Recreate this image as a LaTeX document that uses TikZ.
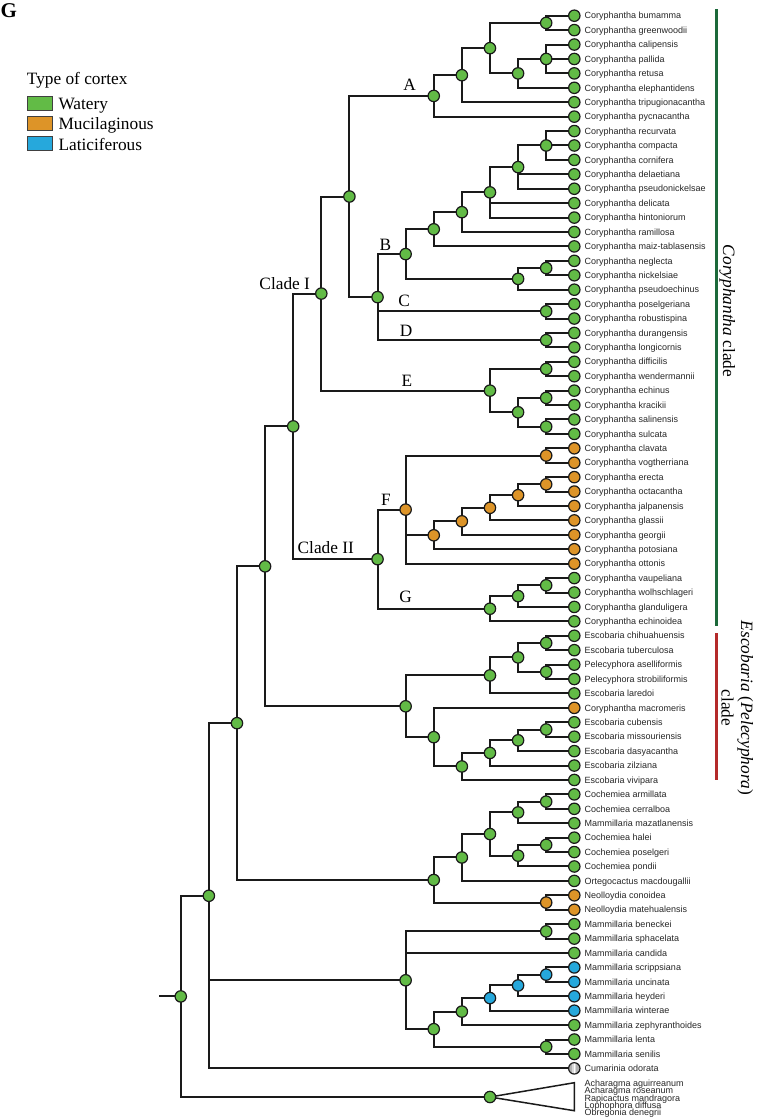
\documentclass[tikz,border=0pt]{standalone}
\usepackage{fontspec}
\setmainfont{Liberation Serif}
\newfontfamily\leaffont{Liberation Sans}
\usetikzlibrary{backgrounds}
\definecolor{gC}{RGB}{98,187,70}
\definecolor{oC}{RGB}{221,148,40}
\definecolor{bC}{RGB}{38,168,220}
\definecolor{barG}{RGB}{28,105,58}
\definecolor{barR}{RGB}{180,42,42}
\definecolor{ink}{RGB}{26,26,26}
\begin{document}
\begin{tikzpicture}[x=1pt,y=-1pt,
  nd/.style={circle, draw=ink, line width=1.2pt, minimum size=11.4pt, inner sep=0pt},
  edge/.style={line width=2pt, draw=ink},
  lab/.style={anchor=base west, inner sep=0pt, font=\leaffont\fontsize{9}{9}\selectfont, text=black!85},
  cl/.style={anchor=base, inner sep=0pt, font=\fontsize{17.3}{17.3}\selectfont},
  sw/.style={rectangle, draw=black!75, line width=0.8pt, minimum width=25pt, minimum height=13.6pt, inner sep=0pt},
  cumar/.style={nd, fill=gray!60, path picture={
     \fill[gray!30] ([xshift=-2pt]path picture bounding box.north) rectangle ([xshift=2pt]path picture bounding box.south);
     \fill[white] ([xshift=-0.6pt]path picture bounding box.north) rectangle ([xshift=0.6pt]path picture bounding box.south);}}
]
\useasboundingbox (0,0) rectangle (756,1119);

% panel letter and legend
\node[anchor=base west, inner sep=0pt, font=\bfseries\fontsize{21}{21}\selectfont] (panel) at (0.5,17.3) {G};
\node[anchor=base west, inner sep=0pt, font=\fontsize{17.3}{17.3}\selectfont] (legt) at (26.7,84) {Type of cortex};
\node[sw, fill=gC] (sw1) at (39.8,103.3) {};
\node[sw, fill=oC] (sw2) at (39.8,123.3) {};
\node[sw, fill=bC] (sw3) at (39.8,143.5) {};
\node[anchor=base west, inner sep=0pt, font=\fontsize{17.3}{17.3}\selectfont] (lw1) at (58.3,109.3) {Watery};
\node[anchor=base west, inner sep=0pt, font=\fontsize{17.3}{17.3}\selectfont] (lw2) at (58.3,129.8) {Mucilaginous};
\node[anchor=base west, inner sep=0pt, font=\fontsize{17.3}{17.3}\selectfont] (lw3) at (58.3,150.3) {Laticiferous};

% leaves
\foreach \i/\c/\t in {
1/gC/Coryphantha bumamma, 2/gC/Coryphantha greenwoodii, 3/gC/Coryphantha calipensis,
4/gC/Coryphantha pallida, 5/gC/Coryphantha retusa, 6/gC/Coryphantha elephantidens,
7/gC/Coryphantha tripugionacantha, 8/gC/Coryphantha pycnacantha, 9/gC/Coryphantha recurvata,
10/gC/Coryphantha compacta, 11/gC/Coryphantha cornifera, 12/gC/Coryphantha delaetiana,
13/gC/Coryphantha pseudonickelsae, 14/gC/Coryphantha delicata, 15/gC/Coryphantha hintoniorum,
16/gC/Coryphantha ramillosa, 17/gC/Coryphantha maiz-tablasensis, 18/gC/Coryphantha neglecta,
19/gC/Coryphantha nickelsiae, 20/gC/Coryphantha pseudoechinus, 21/gC/Coryphantha poselgeriana,
22/gC/Coryphantha robustispina, 23/gC/Coryphantha durangensis, 24/gC/Coryphantha longicornis,
25/gC/Coryphantha difficilis, 26/gC/Coryphantha wendermannii, 27/gC/Coryphantha echinus,
28/gC/Coryphantha kracikii, 29/gC/Coryphantha salinensis, 30/gC/Coryphantha sulcata,
31/oC/Coryphantha clavata, 32/oC/Coryphantha vogtherriana, 33/oC/Coryphantha erecta,
34/oC/Coryphantha octacantha, 35/oC/Coryphantha jalpanensis, 36/oC/Coryphantha glassii,
37/oC/Coryphantha georgii, 38/oC/Coryphantha potosiana, 39/oC/Coryphantha ottonis,
40/gC/Coryphantha vaupeliana, 41/gC/Coryphantha wolhschlageri, 42/gC/Coryphantha glanduligera,
43/gC/Coryphantha echinoidea, 44/gC/Escobaria chihuahuensis, 45/gC/Escobaria tuberculosa,
46/gC/Pelecyphora aselliformis, 47/gC/Pelecyphora strobiliformis, 48/gC/Escobaria laredoi,
49/oC/Coryphantha macromeris, 50/gC/Escobaria cubensis, 51/gC/Escobaria missouriensis,
52/gC/Escobaria dasyacantha, 53/gC/Escobaria zilziana, 54/gC/Escobaria vivipara,
55/gC/Cochemiea armillata, 56/gC/Cochemiea cerralboa, 57/gC/Mammillaria mazatlanensis,
58/gC/Cochemiea halei, 59/gC/Cochemiea poselgeri, 60/gC/Cochemiea pondii,
61/gC/Ortegocactus macdougallii, 62/oC/Neolloydia conoidea, 63/oC/Neolloydia matehualensis,
64/gC/Mammillaria beneckei, 65/gC/Mammillaria sphacelata, 66/gC/Mammillaria candida,
67/bC/Mammillaria scrippsiana, 68/bC/Mammillaria uncinata, 69/bC/Mammillaria heyderi,
70/bC/Mammillaria winterae, 71/gC/Mammillaria zephyranthoides, 72/gC/Mammillaria lenta,
73/gC/Mammillaria senilis}{
  \node[nd, fill=\c] (l\i) at (574.3,{15.7+14.42*(\i-1)}) {};
  \node[lab] (t\i) at (584.3,{18.9+14.42*(\i-1)}) {\t};
}
\node[cumar] (l74) at (574.3,1068.36) {};
\node[lab] (t74) at (584.3,1071.56) {Cumarinia odorata};

% internal nodes
\foreach \n/\x/\y/\c in {
a1/546.19/22.91/gC, a2/546.19/58.96/gC, a3/518.08/73.38/gC, a4/489.97/48.15/gC,
a5/461.86/75.19/gC, A/433.75/95.92/gC,
b1/546.19/145.48/gC, b2/518.08/167.11/gC, b3/489.97/192.35/gC, b4/461.86/212.18/gC,
b5/433.75/229.30/gC, b6/546.19/268.05/gC, b7/518.08/278.87/gC, B/405.64/254.09/gC,
C/546.19/311.31/gC, D/546.19/340.15/gC, BCD/377.53/297.12/gC, AB/349.42/196.52/gC,
e1/546.19/368.99/gC, e2/546.19/397.83/gC, e3/546.19/426.67/gC, e4/518.08/412.25/gC,
E/489.97/390.62/gC, CI/321.31/293.57/gC,
f1/546.19/455.51/oC, f2/546.19/484.35/oC, f3/518.08/495.17/oC, f4/489.97/507.79/oC,
f5/461.86/521.31/oC, f6/433.75/535.28/oC, F/405.64/509.59/oC,
g1/546.19/585.29/gC, g2/518.08/596.11/gC, G/489.97/608.73/gC,
CII/377.53/559.16/gC, C12/293.2/426.37/gC,
s1/546.19/642.97/gC, s2/546.19/671.81/gC, s3/518.08/657.39/gC, s4/489.97/675.42/gC,
s5/546.19/729.49/gC, s6/518.08/740.31/gC, s7/489.97/752.93/gC, s8/461.86/766.45/gC,
s9/433.75/737.16/gC, S/405.64/706.29/gC, n11/265.09/566.33/gC,
k1/546.19/801.59/gC, k2/518.08/812.41/gC, k3/546.19/844.85/gC, k4/518.08/855.67/gC,
k5/489.97/834.04/gC, k6/461.86/857.47/gC, k7/546.19/902.53/oC, K/433.75/880.00/gC,
n12/236.98/723.17/gC,
m1/546.19/931.37/gC, m2/546.19/974.63/bC, m3/518.08/985.45/bC, m4/489.97/998.07/bC,
m5/461.86/1011.59/gC, m6/546.19/1046.73/gC, m7/433.75/1029.16/gC, M/405.64/980.27/gC,
n13/208.87/895.77/gC, tri/489.97/1097/gC, root/180.76/996.4/gC}{
  \node[nd, fill=\c] (\n) at (\x,\y) {};
}

% collapsed clade
\coordinate (tritop) at (574.3,1082.7);
\coordinate (tribot) at (574.3,1110.7);
\coordinate (stub) at (159,996.4);
\foreach \j/\t in {0/Acharagma aguirreanum, 1/Acharagma roseanum, 2/Rapicactus mandragora,
  3/Lophophora diffusa, 4/Obregonia denegrii}{
  \node[lab] (tr\j) at (584.3,{1086.7+7.2*\j}) {\t};
}

% branches
\begin{scope}[on background layer]
\foreach \p/\c in {a1/l1, a1/l2, a2/l3, a2/l4, a2/l5, a3/a2, a3/l6, a4/a1, a4/a3,
  a5/a4, a5/l7, A/a5, A/l8,
  b1/l9, b1/l10, b1/l11, b2/b1, b2/l12, b2/l13, b3/b2, b3/l14, b3/l15, b4/b3, b4/l16,
  b5/b4, b5/l17, b6/l18, b6/l19, b7/b6, b7/l20, B/b5, B/b7,
  C/l21, C/l22, D/l23, D/l24, BCD/B, BCD/C, BCD/D, AB/A, AB/BCD,
  e1/l25, e1/l26, e2/l27, e2/l28, e3/l29, e3/l30, e4/e2, e4/e3, E/e1, E/e4, CI/AB, CI/E,
  f1/l31, f1/l32, f2/l33, f2/l34, f3/f2, f3/l35, f4/f3, f4/l36, f5/f4, f5/l37,
  f6/f5, f6/l38, F/f1, F/f6, F/l39,
  g1/l40, g1/l41, g2/g1, g2/l42, G/g2, G/l43, CII/F, CII/G, C12/CI, C12/CII,
  s1/l44, s1/l45, s2/l46, s2/l47, s3/s1, s3/s2, s4/s3, s4/l48,
  s5/l50, s5/l51, s6/s5, s6/l52, s7/s6, s7/l53, s8/s7, s8/l54, s9/l49, s9/s8,
  S/s4, S/s9, n11/C12, n11/S,
  k1/l55, k1/l56, k2/k1, k2/l57, k3/l58, k3/l59, k4/k3, k4/l60, k5/k2, k5/k4,
  k6/k5, k6/l61, k7/l62, k7/l63, K/k6, K/k7, n12/n11, n12/K,
  m1/l64, m1/l65, m2/l67, m2/l68, m3/m2, m3/l69, m4/m3, m4/l70, m5/m4, m5/l71,
  m6/l72, m6/l73, m7/m5, m7/m6, M/m1, M/l66, M/m7,
  n13/n12, n13/M, n13/l74, root/n13, root/tri}{
  \draw[edge] (\p.center) |- (\c.center);
}
\draw[edge] (stub) -- (root.center);
\draw[edge, line width=1.5pt, line join=miter] (tri.center) -- (tritop) -- (tribot) -- cycle;
\end{scope}

% clade labels
\node[cl] (labA) at (409.5,90.7) {A};
\node[cl] (labB) at (385.3,250) {B};
\node[cl] (labC) at (404.2,306.7) {C};
\node[cl] (labD) at (406.2,336.7) {D};
\node[cl] (labE) at (407,386) {E};
\node[cl] (labF) at (386,505.3) {F};
\node[cl] (labG) at (405.5,602.7) {G};
\node[cl] (labCI) at (284.7,289.3) {Clade I};
\node[cl] (labCII) at (325.8,553.3) {Clade II};

% clade bars
\draw[line width=2.6pt, draw=barG] (716.7,9.3) -- (716.7,626);
\draw[line width=2.6pt, draw=barR] (716.7,633.3) -- (716.7,780);
\node[cl, rotate=-90] (cory) at (723,311) {\textit{Coryphantha} clade};
\node[cl, rotate=-90] (esc1) at (741,708) {\textit{Escobaria} (\textit{Pelecyphora})};
\node[cl, rotate=-90] (esc2) at (721.5,708) {clade};
\end{tikzpicture}
\end{document}
